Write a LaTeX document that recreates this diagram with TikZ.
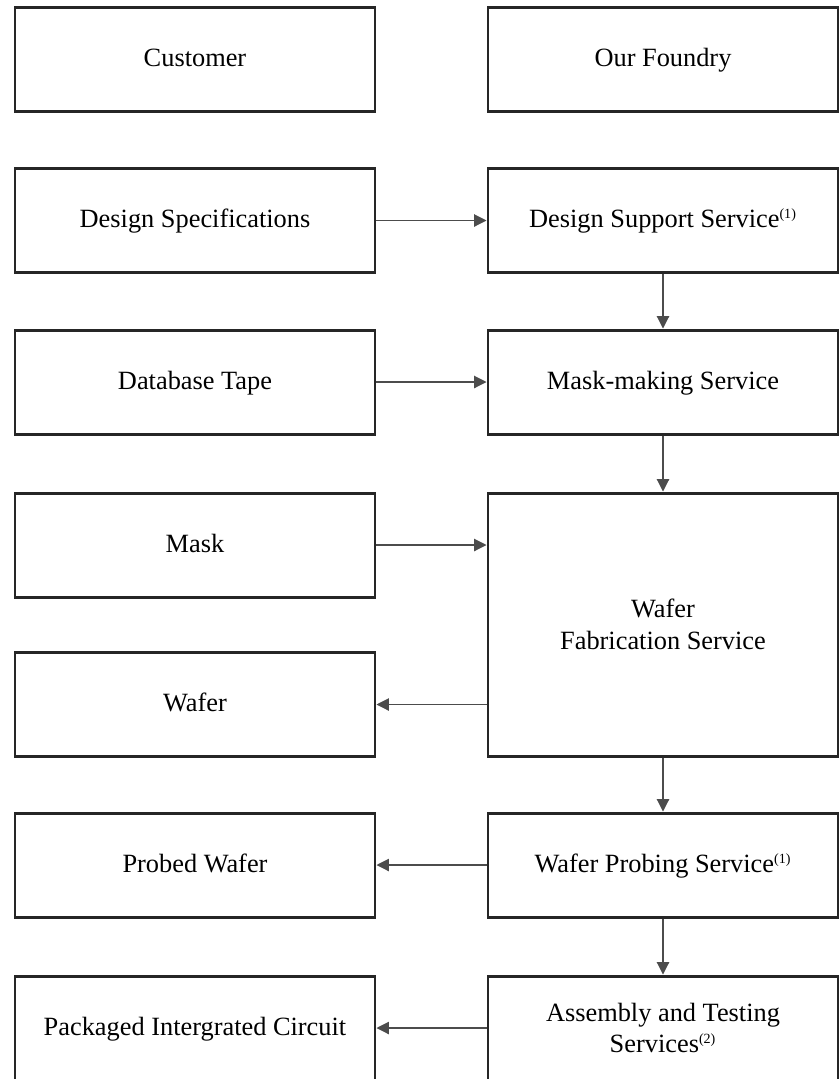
\documentclass[tikz,border=0pt]{standalone}
\usepackage{fontspec}
\setmainfont{Liberation Serif}
\usepackage{tikz}
\usetikzlibrary{arrows.meta, positioning}

\newcommand{\fnref}[1]{\textsuperscript{\fontsize{8}{8}\selectfont(#1)}}

\begin{document}
\begin{tikzpicture}[
  blk/.style={draw=black!85, line width=1.7pt, minimum width=7.2cm, minimum height=2.08cm,
              align=center, inner sep=0pt, text height=2.1ex, text depth=0.3ex,
              font=\fontsize{15}{18}\selectfont},
  rblk/.style={blk, minimum width=7cm},
  twoline/.style={text height=, text depth=},
  link/.style={-{Triangle[length=7pt,width=7pt]}, black!70, line width=0.6pt}
]
\useasboundingbox (0,0) rectangle (16.76,-21.58);

% Customer column
\node[blk] (cust) at (3.9,-1.19) {Customer};
\node[blk] (spec) at (3.9,-4.41) {Design Specifications};
\node[blk] (tape) at (3.9,-7.64) {Database Tape};
\node[blk] (mask) at (3.9,-10.9) {Mask};
\node[blk] (wafer) at (3.9,-14.09) {Wafer};
\node[blk] (probed) at (3.9,-17.3) {Probed Wafer};
\node[blk] (pkg) at (3.9,-20.56) {Packaged Intergrated Circuit};

% Foundry column
\node[rblk] (foundry) at (13.26,-1.19) {Our Foundry};
\node[rblk] (dss) at (13.26,-4.41) {Design Support Service\fnref{1}};
\node[rblk] (msk) at (13.26,-7.64) {Mask-making Service};
\node[rblk, twoline, minimum height=5.26cm] (fab) at (13.26,-12.49) {Wafer\\Fabrication Service};
\node[rblk] (probe) at (13.26,-17.3) {Wafer Probing Service\fnref{1}};
\node[rblk, twoline] (asm) at (13.26,-20.56) {Assembly and Testing\\Services\fnref{2}};

% Customer to foundry
\draw[link] (spec) -- (dss);
\draw[link] (tape) -- (msk);
\draw[link] (mask.east) -- (mask.east -| fab.west);

% Foundry flow
\foreach \a/\b in {dss/msk, msk/fab, fab/probe, probe/asm}
  \draw[link] (\a.south) -- (\b.north);

% Back to customer
\draw[link] (wafer.east -| fab.west) -- (wafer.east);
\draw[link] (probe) -- (probed);
\draw[link] (asm) -- (pkg);

\end{tikzpicture}
\end{document}
